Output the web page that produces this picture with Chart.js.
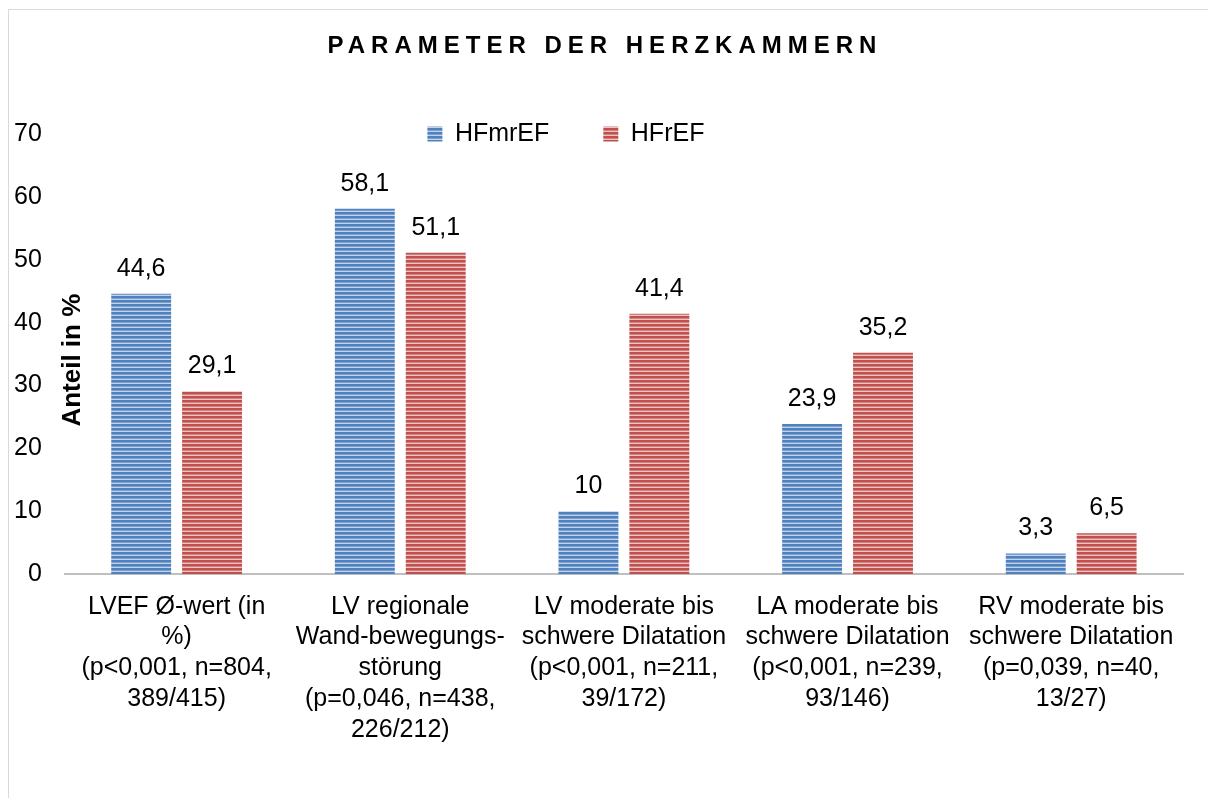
<!DOCTYPE html>
<html>
<head>
<meta charset="utf-8">
<script src="https://cdn.jsdelivr.net/npm/chart.js@4.4.1/dist/chart.umd.min.js"></script>
<style>
  html, body { margin: 0; padding: 0; background: #fff; }
  #wrap { position: relative; width: 1208px; height: 798px; overflow: hidden; }
  #frame { position: absolute; left: 8px; top: 9px; width: 1400px; height: 1000px;
           border-left: 1px solid #d9d9d9; border-top: 1px solid #d9d9d9; }
  canvas { position: absolute; left: 0; top: 0; }
</style>
</head>
<body>
<div id="wrap">
  <div id="frame"></div>
  <canvas id="grafico" width="1208" height="798"></canvas>
</div>
<script>
// Daten - Parameter der Herzkammern
const kategorien = [
    ['LVEF Ø-wert (in', '%)', '(p<0,001, n=804,', '389/415)'],
    ['LV regionale', 'Wand-bewegungs-', 'störung', '(p=0,046, n=438,', '226/212)'],
    ['LV moderate bis', 'schwere Dilatation', '(p<0,001, n=211,', '39/172)'],
    ['LA moderate bis', 'schwere Dilatation', '(p<0,001, n=239,', '93/146)'],
    ['RV moderate bis', 'schwere Dilatation', '(p=0,039, n=40,', '13/27)']
];
const hfmref = [44.6, 58.1, 10, 23.9, 3.3];
const hfref = [29.1, 51.1, 41.4, 35.2, 6.5];
const yTicks = [0, 10, 20, 30, 40, 50, 60, 70];

const FONT = '"Liberation Sans", Arial, sans-serif';

// Streifenmuster wie im Excel-Original
function streifen(dunkel, mittel, hell) {
    const c = document.createElement('canvas');
    c.width = 4; c.height = 4;
    const g = c.getContext('2d');
    g.fillStyle = dunkel; g.fillRect(0, 0, 4, 2);
    g.fillStyle = mittel; g.fillRect(0, 2, 4, 1);
    g.fillStyle = hell; g.fillRect(0, 3, 4, 1);
    return g.createPattern(c, 'repeat');
}
const blau = streifen('#4f81bd', '#7b9fd0', '#c3d3ea');
const rot = streifen('#c0504d', '#d27f7d', '#ecc4c3');

// Werte über den Balken, Titel und Achsentitel
const beschriftung = {
    id: 'beschriftung',
    afterLayout(chart) {
        // Legende sitzt wie in Excel in der Plotfläche, etwas links der Mitte
        const lg = chart.legend;
        const area = chart.chartArea;
        const pad = lg.options.labels.padding;
        lg.top = area.top - pad - 12.5;
        lg.bottom = area.top + 30;
        lg.height = lg.bottom - lg.top;
        lg.left = area.left - 58;
        lg.right = area.right - 58;
    },
    afterDatasetsDraw(chart) {
        const ctx = chart.ctx;
        ctx.save();
        ctx.font = '25px ' + FONT;
        ctx.fillStyle = '#000';
        ctx.textAlign = 'center';
        ctx.textBaseline = 'middle';
        chart.data.datasets.forEach((ds, i) => {
            chart.getDatasetMeta(i).data.forEach((bar, j) => {
                ctx.fillText(String(ds.data[j]).replace('.', ','), bar.x, bar.y - 25);
            });
        });
        ctx.restore();
    },
    afterDraw(chart) {
        const ctx = chart.ctx;
        const area = chart.chartArea;
        ctx.save();
        ctx.fillStyle = '#000';
        ctx.textAlign = 'center';
        ctx.textBaseline = 'middle';
        ctx.font = 'bold 24px ' + FONT;
        ctx.letterSpacing = '6px';
        ctx.fillText('PARAMETER DER HERZKAMMERN', chart.width / 2 + 1, 46);
        ctx.letterSpacing = '0px';
        ctx.translate(area.left + 8, (area.top + area.bottom) / 2 + 6);
        ctx.rotate(-Math.PI / 2);
        ctx.font = 'bold 26px ' + FONT;
        ctx.fillText('Anteil in %', 0, 0);
        ctx.restore();
    }
};

const ctx = document.getElementById('grafico').getContext('2d');
new Chart(ctx, {
    type: 'bar',
    data: {
        labels: kategorien,
        datasets: [
            { label: 'HFmrEF', data: hfmref, backgroundColor: blau, borderWidth: 0 },
            { label: 'HFrEF', data: hfref, backgroundColor: rot, borderWidth: 0 }
        ]
    },
    options: {
        responsive: false,
        animation: false,
        layout: { padding: { top: 133, left: -9, right: 25, bottom: 36 } },
        datasets: { bar: { categoryPercentage: 0.634, barPercentage: 0.845 } },
        scales: {
            x: {
                grid: { display: false, drawTicks: false },
                border: { display: true, color: '#bfbfbf', width: 2 },
                ticks: {
                    color: '#000',
                    font: { family: FONT, size: 25, lineHeight: 1.23 },
                    padding: 17,
                    maxRotation: 0,
                    autoSkip: false
                }
            },
            y: {
                min: 0,
                max: 70,
                afterBuildTicks: (s) => { s.ticks = yTicks.map(v => ({ value: v })); },
                grid: { display: false, drawTicks: false },
                border: { display: false },
                ticks: {
                    color: '#000',
                    font: { family: FONT, size: 25 },
                    padding: 23
                }
            }
        },
        plugins: {
            legend: {
                position: 'top',
                maxHeight: 1,
                align: 'center',
                labels: {
                    color: '#000',
                    font: { family: FONT, size: 25 },
                    boxWidth: 15,
                    boxHeight: 15,
                    padding: 54
                }
            },
            title: { display: false },
            tooltip: { enabled: false }
        }
    },
    plugins: [beschriftung]
});
</script>
</body>
</html>
